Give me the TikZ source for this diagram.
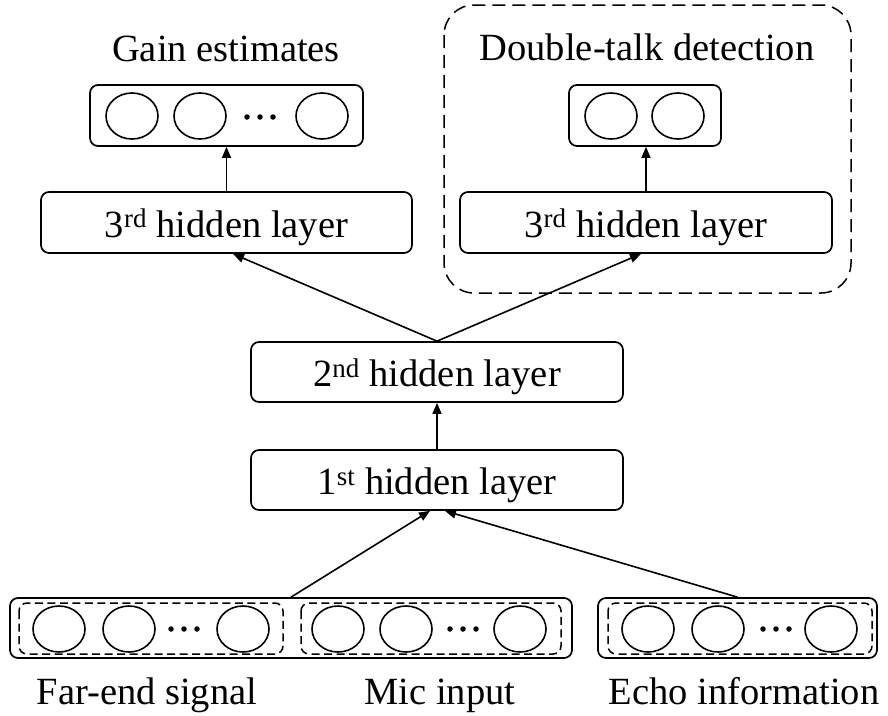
\documentclass[tikz,border=0pt]{standalone}
\usepackage{fontspec}
\setmainfont{Liberation Serif}
\usetikzlibrary{arrows.meta,shapes.geometric}
\begin{document}
\begin{tikzpicture}[x=1pt,y=-1pt,
  every node/.style={font=\fontsize{38.5}{44}\selectfont},
  lbox/.style={draw,line width=1.7pt,rounded corners=8pt,minimum height=60pt,inner sep=0pt,text height=29pt,text depth=0pt},
  dbox/.style={draw,line width=1.5pt,rounded corners=8pt,dash pattern=on 8pt off 4.5pt},
  unit/.style={draw,ellipse,line width=1.6pt,minimum width=52pt,minimum height=46pt,inner sep=0pt},
  dot/.style={fill,circle,inner sep=0pt,minimum size=5.5pt},
  conn/.style={line width=1.6pt,-{Triangle[length=11pt,width=9pt]}},
  lab/.style={anchor=base,inner sep=0pt}]
\useasboundingbox (0,0) rectangle (888,715);
% region
\draw[line width=1.5pt,rounded corners=30pt,dash pattern=on 13pt off 7pt] (444,5) rectangle (851,293);
% labels
\node[lab] (tg) at (226,61) {Gain estimates};
\node[lab] (td) at (647,60) {Double-talk detection};
\node[lab] (tf) at (147,704) {Far-end signal};
\node[lab] (tm) at (440,704) {Mic input};
\node[lab] (te) at (744,704) {Echo information};
% output boxes
\node[lbox,minimum width=273pt,minimum height=61pt] (gain) at (226.5,115.5) {};
\node[lbox,minimum width=152pt,minimum height=61pt] (dt) at (645,115.5) {};
\node[unit] (g1) at (132,116) {};
\node[unit] (g2) at (200,116) {};
\foreach \i/\x in {a/247,b/260,c/273} \node[dot] (gd\i) at (\x,117) {};
\node[unit] (g3) at (322,116) {};
\node[unit] (d1) at (611,116) {};
\node[unit] (d2) at (678,116) {};
% hidden layers
\node[lbox,minimum width=371pt,minimum height=61pt] (L3) at (226.5,222.5) {3\textsuperscript{rd} hidden layer};
\node[lbox,minimum width=372pt,minimum height=61pt] (R3) at (646,222.5) {3\textsuperscript{rd} hidden layer};
\node[lbox,minimum width=372pt] (H2) at (437,372) {2\textsuperscript{nd} hidden layer};
\node[lbox,minimum width=372pt] (H1) at (437,480) {1\textsuperscript{st} hidden layer};
% input boxes
\node[lbox,minimum width=562pt] (in) at (291,628) {};
\node[lbox,minimum width=279pt] (echo) at (737.5,628) {};
\draw[dbox] (19,603) rectangle (283,654);
\draw[dbox] (301,603) rectangle (561,654);
\draw[dbox] (608,603) rectangle (872,654);
\node[unit] (f1) at (59,629) {};
\node[unit] (f2) at (129,629) {};
\foreach \i/\x in {a/171,b/184,c/197} \node[dot] (fd\i) at (\x,629) {};
\node[unit] (f3) at (243,629) {};
\node[unit] (m1) at (338,629) {};
\node[unit] (m2) at (406,629) {};
\foreach \i/\x in {a/450,b/463,c/476} \node[dot] (md\i) at (\x,629) {};
\node[unit] (m3) at (520,629) {};
\node[unit] (e1) at (648,629) {};
\node[unit] (e2) at (718,629) {};
\foreach \i/\x in {a/763,b/776,c/789} \node[dot] (ed\i) at (\x,629) {};
\node[unit] (e3) at (831,629) {};
% connectors
\draw[conn] (L3.north) -- (gain.south);
\draw[conn] (R3.north) -- (R3.north |- dt.south);
\draw[conn] (H2.north) -- ([xshift=6.5pt]L3.south);
\draw[conn] (H2.north) -- ([xshift=-5pt]R3.south);
\draw[conn] (H1.north) -- (H2.south);
\draw[conn] (in.north) -- ([xshift=-7pt]H1.south);
\draw[conn] (echo.north) -- ([xshift=8pt]H1.south);
\end{tikzpicture}
\end{document}
